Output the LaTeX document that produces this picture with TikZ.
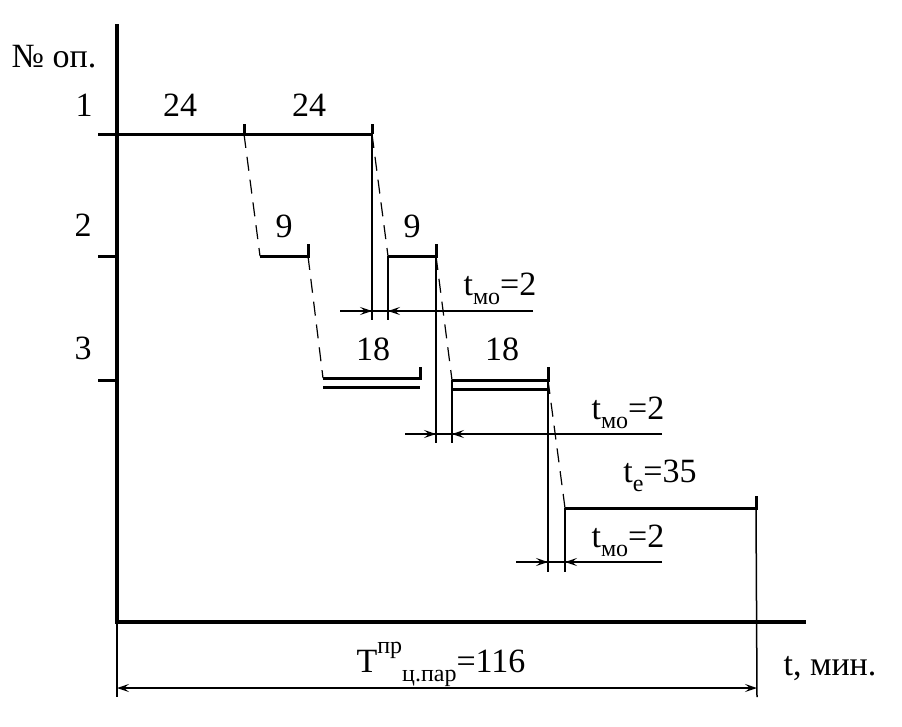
\documentclass[tikz,border=0pt]{standalone}
\usepackage{fontspec}
\setmainfont{Liberation Serif}
\usetikzlibrary{arrows.meta}
\newcommand{\mysub}[1]{\raisebox{-0.28em}{\fontsize{24}{26}\selectfont #1}}
\newcommand{\mysup}[1]{\raisebox{0.55em}{\fontsize{24}{26}\selectfont #1}}
\begin{document}
\begin{tikzpicture}[x=1pt,y=-1pt,
  axisln/.style={line width=3.2pt},
  thickln/.style={line width=3pt},
  thinln/.style={line width=1.5pt},
  flow/.style={line width=1.2pt, dash pattern=on 14pt off 9pt},
  dimarr/.style={line width=1.5pt,-{Stealth[length=12pt,width=8pt,inset=5pt]}},
  lbl/.style={font=\fontsize{34}{38}\selectfont, anchor=base, inner sep=0pt}]
\useasboundingbox (0,0) rectangle (902,726);
\fill[white] (0,0) rectangle (902,726);
% axes
\coordinate (Otop) at (117,24);
\coordinate (O) at (117,622);
\coordinate (Xend) at (806,622);
\draw[axisln] (Otop) -- (O) -- (Xend);
% operation ticks on the axis
\coordinate (k2a) at (98,256); \coordinate (k2b) at (117,256);
\coordinate (k3a) at (98,380); \coordinate (k3b) at (117,380);
\draw[thickln] (k2a) -- (k2b);
\draw[thickln] (k3a) -- (k3b);
% operation 1
\coordinate (a1s) at (98,134);
\coordinate (a1m) at (244,134);
\coordinate (a1e) at (372,134);
\draw[thickln] (a1s) -- (a1e);
\draw[thickln] (a1m) -- +(0,-10);
\draw[thickln] (a1e) -- +(0,-10);
% operation 2
\coordinate (b1s) at (260,256); \coordinate (b1e) at (308,256);
\coordinate (b2s) at (388,256); \coordinate (b2e) at (436,256);
\draw[thickln] (b1s) -- (b1e) -- +(0,-12);
\draw[thickln] (b2s) -- (b2e) -- +(0,-12);
% operation 3 (double lines)
\coordinate (c1s) at (323,378); \coordinate (c1e) at (420,378);
\coordinate (c1s') at (323,387); \coordinate (c1e') at (420,387);
\coordinate (c2s) at (452,380); \coordinate (c2e) at (548,380);
\coordinate (c2s') at (452,389); \coordinate (c2e') at (548,389);
\draw[thickln] (c1s) -- (c1e) -- +(0,-11);
\draw[thickln] (c1s') -- (c1e');
\draw[thickln] (c2s) -- (c2e) -- +(0,-13);
\draw[thickln] (c2s') -- (c2e');
% operation 4
\coordinate (d1s) at (565,508); \coordinate (d1e) at (756,508);
\draw[thickln] (d1s) -- (d1e) -- +(0,-12);
% transfer lines
\draw[flow] (a1m) -- (b1s);
\draw[flow] (b1e) -- (c1s);
\draw[flow] (a1e) -- (b2s);
\draw[flow] (b2e) -- (c2s);
\draw[flow] (c2e) -- (d1s);
% dimension 1
\coordinate (e1a) at (372,320); \coordinate (e1b) at (388,320);
\draw[thinln] (a1e) -- (e1a);
\draw[thinln] (b2s) -- (e1b);
\coordinate (m1l) at (340,311); \coordinate (m1r) at (533,311);
\coordinate (m1a) at (372,311); \coordinate (m1b) at (388,311);
\draw[thinln] (m1l) -- (m1r);
\draw[dimarr] (m1l) -- (m1a);
\draw[dimarr] (m1r) -- (m1b);
% dimension 2
\coordinate (e2a) at (436,443); \coordinate (e2b) at (452,443);
\draw[thinln] (b2e) -- (e2a);
\draw[thinln] (c2s) -- (e2b);
\coordinate (m2l) at (405,434); \coordinate (m2r) at (662,434);
\coordinate (m2a) at (436,434); \coordinate (m2b) at (452,434);
\draw[thinln] (m2l) -- (m2r);
\draw[dimarr] (m2l) -- (m2a);
\draw[dimarr] (m2r) -- (m2b);
% dimension 3
\coordinate (e3a) at (548,572); \coordinate (e3b) at (565,572);
\draw[thinln] (c2e) -- (e3a);
\draw[thinln] (d1s) -- (e3b);
\coordinate (m3l) at (516,562); \coordinate (m3r) at (662,562);
\coordinate (m3a) at (548,562); \coordinate (m3b) at (565,562);
\draw[thinln] (m3l) -- (m3r);
\draw[dimarr] (m3l) -- (m3a);
\draw[dimarr] (m3r) -- (m3b);
% total dimension
\coordinate (f1) at (117,697); \coordinate (f2) at (757,697);
\draw[thinln] (O) -- (f1);
\draw[thinln] (d1e) -- (f2);
\coordinate (g1) at (117,688); \coordinate (g2) at (757,688);
\draw[dimarr, {Stealth[length=12pt,width=8pt,inset=5pt]}-{Stealth[length=12pt,width=8pt,inset=5pt]}] (g1) -- (g2);
% labels
\node[lbl] (hdr) at (54,67) {№ оп.};
\node[lbl] (n1) at (84,116) {1};
\node[lbl] (n2) at (83,236) {2};
\node[lbl] (n3) at (83,359) {3};
\node[lbl] (t1a) at (180,116) {24};
\node[lbl] (t1b) at (309,116) {24};
\node[lbl] (t2a) at (284,237) {9};
\node[lbl] (t2b) at (412,237) {9};
\node[lbl] (t3a) at (373,360) {18};
\node[lbl] (t3b) at (502,360) {18};
\node[lbl] (mo1) at (500,295) {t\mysub{мо}=2};
\node[lbl] (mo2) at (628,419) {t\mysub{мо}=2};
\node[lbl] (te) at (660,482) {t\mysub{е}=35};
\node[lbl] (mo3) at (628,547) {t\mysub{мо}=2};
\node[lbl] (tot) at (441,672) {T\mysup{пр}\mysub{ц.пар}=116};
\node[lbl] (tunit) at (830,675) {t, мин.};
\end{tikzpicture}
\end{document}
